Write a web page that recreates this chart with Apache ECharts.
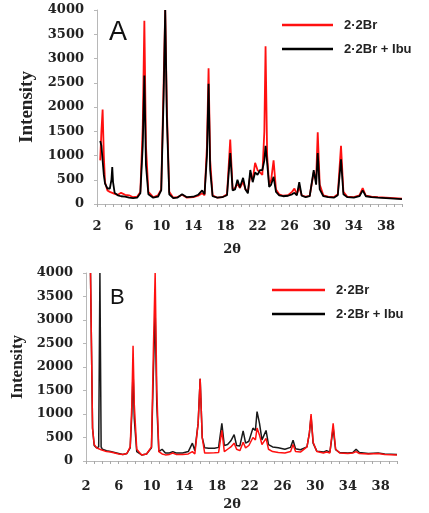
<!DOCTYPE html>
<html>
<head>
<meta charset="utf-8">
<script src="https://cdn.jsdelivr.net/npm/echarts@6/dist/echarts.min.js"></script>
<style>
  html, body { margin: 0; padding: 0; background: #fff; }
  #chart { width: 429px; height: 513px; }
</style>
</head>
<body>
<div id="chart"></div>
<script>
// panel A: 2θ positions and intensities
const aTheta = [2.4, 2.55, 2.7, 2.85, 3.0, 3.3, 3.6, 3.8, 3.9, 4.0, 4.2, 4.6, 5.0, 5.5, 6.0, 6.5, 7.0, 7.4, 7.7, 7.9, 8.1, 8.4, 9.0, 9.6, 10.0, 10.3, 10.5, 10.7, 11.0, 11.5, 12.0, 12.6, 13.2, 14.0, 14.6, 15.1, 15.4, 15.7, 15.9, 16.1, 16.4, 17.0, 17.6, 18.2, 18.6, 18.9, 19.2, 19.5, 19.8, 20.2, 20.5, 20.8, 21.1, 21.4, 21.7, 22.0, 22.3, 22.6, 22.85, 23.0, 23.2, 23.45, 23.7, 24.0, 24.3, 24.7, 25.2, 25.8, 26.3, 26.6, 26.9, 27.2, 27.5, 28.0, 28.5, 29.0, 29.3, 29.5, 29.75, 30.2, 30.8, 31.5, 32.0, 32.4, 32.7, 33.2, 34.0, 34.7, 35.1, 35.5, 36.2, 37.0, 38.0, 39.0, 40.0]
const aRed = [900, 1500, 1950, 1000, 450, 280, 250, 240, 230, 220, 210, 190, 230, 190, 180, 140, 150, 250, 1600, 3780, 1200, 250, 140, 180, 300, 2500, 4000, 2000, 250, 130, 140, 190, 130, 140, 170, 220, 180, 1200, 2800, 900, 180, 130, 140, 200, 1330, 300, 330, 420, 330, 460, 300, 250, 600, 500, 850, 700, 650, 600, 1500, 3250, 1000, 400, 500, 900, 300, 200, 170, 180, 250, 320, 200, 350, 180, 150, 170, 650, 500, 1480, 400, 180, 150, 140, 200, 1200, 250, 150, 140, 180, 330, 170, 150, 140, 130, 120, 110]
const aBlack = [1300, 1200, 900, 600, 420, 320, 320, 500, 760, 450, 230, 180, 160, 150, 130, 120, 130, 220, 1200, 2650, 800, 200, 130, 150, 280, 2200, 4000, 1800, 200, 120, 130, 200, 140, 150, 190, 280, 200, 1000, 2480, 700, 160, 130, 140, 180, 1050, 280, 300, 500, 340, 540, 300, 220, 700, 450, 650, 600, 700, 700, 900, 1200, 850, 350, 400, 560, 250, 180, 160, 170, 200, 230, 180, 450, 170, 140, 160, 700, 400, 1050, 300, 160, 140, 130, 180, 920, 200, 140, 130, 160, 280, 160, 140, 130, 120, 110, 100]

// panel B
const bTheta = [2.55, 2.65, 2.8, 3.0, 3.3, 3.55, 3.7, 3.85, 4.0, 4.5, 5.0, 5.5, 6.0, 6.5, 7.0, 7.4, 7.6, 7.75, 7.9, 8.2, 8.8, 9.4, 10.0, 10.25, 10.45, 10.65, 10.9, 11.3, 11.7, 12.2, 12.6, 13.0, 13.8, 14.5, 15.0, 15.3, 15.7, 15.95, 16.2, 16.5, 17.0, 17.7, 18.2, 18.6, 18.9, 19.3, 19.7, 20.1, 20.4, 20.8, 21.2, 21.5, 21.9, 22.4, 22.7, 22.9, 23.2, 23.5, 24.0, 24.3, 24.8, 25.5, 26.3, 27.0, 27.3, 27.6, 28.2, 29.0, 29.3, 29.5, 29.75, 30.2, 31.0, 31.4, 31.8, 32.2, 32.5, 33.0, 34.0, 34.6, 35.0, 35.4, 36.5, 37.7, 38.5, 40.0]
const bRed = [4000, 4000, 700, 350, 280, 260, 250, 240, 230, 200, 190, 170, 150, 140, 160, 300, 1200, 2450, 1200, 250, 130, 150, 300, 2500, 4000, 1500, 200, 150, 130, 140, 170, 140, 140, 150, 200, 150, 800, 1750, 500, 170, 170, 175, 180, 650, 200, 250, 300, 380, 250, 220, 400, 280, 330, 500, 450, 700, 550, 350, 480, 250, 200, 180, 170, 200, 350, 200, 190, 300, 600, 1000, 400, 200, 170, 190, 170, 800, 250, 170, 160, 170, 200, 160, 150, 160, 140, 130]
const bBlack = [4000, 4000, 700, 330, 280, 300, 4000, 300, 250, 220, 200, 180, 160, 140, 160, 280, 1000, 1950, 900, 200, 130, 150, 280, 2000, 3200, 1200, 200, 250, 170, 170, 200, 170, 170, 200, 380, 220, 800, 1750, 500, 280, 270, 270, 290, 800, 330, 350, 430, 560, 330, 320, 640, 380, 420, 700, 650, 1050, 800, 450, 650, 350, 300, 280, 250, 290, 440, 260, 240, 300, 600, 950, 380, 210, 190, 220, 190, 700, 240, 180, 170, 180, 250, 180, 160, 170, 150, 140]

const thetaLabels = [2, 6, 10, 14, 18, 22, 26, 30, 34, 38]
const thetaTicks = []
for (let t = 2; t <= 40; t++) thetaTicks.push(t)

const seriesNames = ['2·2Br', '2·2Br + Ibu']
const RED = '#ff1010'
const BLACK = '#000000'

const pairs = (xs, ys) => xs.map((x, i) => [x, ys[i]])

const serif = 'DejaVu Serif'
const sans = 'Liberation Sans'

function xAxisFor(gridIndex, labelMargin, nameGap, shift) {
  return {
    type: 'value',
    gridIndex,
    min: 2,
    max: 40,
    name: '2θ',
    nameLocation: 'middle',
    nameGap,
    nameTextStyle: {
      fontFamily: serif, fontWeight: 'bold', fontSize: 13, color: '#222',
      padding: [0, shift, 0, 0]
    },
    axisLine: { show: true, lineStyle: { color: '#b8b8b8', width: 1 } },
    axisTick: { show: true, customValues: thetaTicks, length: 3, lineStyle: { color: '#a8a8a8' } },
    axisLabel: {
      customValues: thetaLabels, margin: labelMargin,
      fontFamily: serif, fontWeight: 'bold', fontSize: 13, color: '#222'
    },
    splitLine: { show: false }
  }
}

function yAxisFor(gridIndex, labelMargin, nameGap, nameSize) {
  return {
    type: 'value',
    gridIndex,
    min: 0,
    max: 4000,
    interval: 500,
    name: 'Intensity',
    nameLocation: 'middle',
    nameGap,
    nameTextStyle: { fontFamily: 'Liberation Serif', fontWeight: 'bold', fontSize: nameSize, color: '#222' },
    axisLine: { show: true, lineStyle: { color: '#b8b8b8', width: 1 } },
    axisTick: { show: true, length: 3, lineStyle: { color: '#b8b8b8' } },
    axisLabel: {
      margin: labelMargin, fontFamily: serif, fontWeight: 'bold', fontSize: 13, color: '#222',
      formatter: v => String(v)
    },
    splitLine: { show: false }
  }
}

function lineSeries(name, idx, xs, ys, color, width) {
  return {
    name,
    type: 'line',
    xAxisIndex: idx,
    yAxisIndex: idx,
    data: pairs(xs, ys),
    symbol: 'none',
    smooth: false,
    clip: true,
    lineStyle: { color, width },
    itemStyle: { color }
  }
}

const chart = echarts.init(document.getElementById('chart'), null, { renderer: 'canvas' })

chart.setOption({
  animation: false,
  grid: [
    { left: 97, right: 27, top: 10, bottom: 309 },
    { left: 86, right: 32, top: 273, bottom: 52 }
  ],
  xAxis: [xAxisFor(0, 16, 39, 35), xAxisFor(1, 19, 37, 19)],
  yAxis: [yAxisFor(0, 13, 49, 19), yAxisFor(1, 13, 50, 17)],
  legend: [
    {
      data: seriesNames, orient: 'vertical', left: 277, top: 12,
      icon: 'rect', itemWidth: 51, itemHeight: 2.5, itemGap: 8,
      textStyle: { fontFamily: sans, fontWeight: 'bold', fontSize: 13, color: '#222', lineHeight: 16, padding: [0, 0, 0, 6] }
    },
    {
      data: seriesNames, orient: 'vertical', left: 267, top: 277,
      icon: 'rect', itemWidth: 53, itemHeight: 2.5, itemGap: 8,
      textStyle: { fontFamily: sans, fontWeight: 'bold', fontSize: 13, color: '#222', lineHeight: 16, padding: [0, 0, 0, 6] }
    }
  ],
  graphic: [
    { type: 'text', left: 109, top: 19, style: { text: 'A', font: '27px "Liberation Sans"', fill: '#111' } },
    { type: 'text', left: 110, top: 287, style: { text: 'B', font: '22px "Liberation Sans"', fill: '#111' } }
  ],
  series: [
    lineSeries(seriesNames[0], 0, aTheta, aRed, RED, 1.8),
    lineSeries(seriesNames[1], 0, aTheta, aBlack, BLACK, 1.8),
    lineSeries(seriesNames[1], 1, bTheta, bBlack, '#1a1a1a', 1.5),
    lineSeries(seriesNames[0], 1, bTheta, bRed, RED, 1.5)
  ]
})
</script>
</body>
</html>
